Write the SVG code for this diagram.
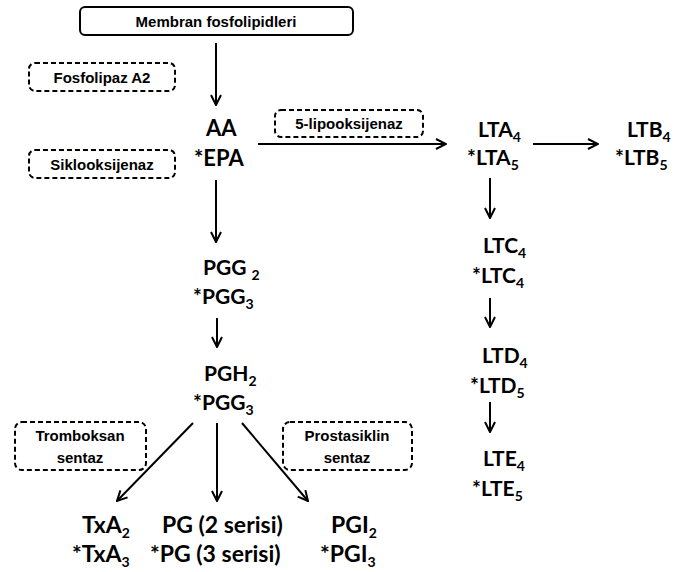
<svg xmlns="http://www.w3.org/2000/svg" width="684" height="572" viewBox="0 0 684 572">
  <style>
    .box { fill: #ffffff; stroke: #000000; stroke-width: 2; }
    .enz { fill: #ffffff; stroke: #000000; stroke-width: 2; stroke-dasharray: 5 3; }
    .lbl { font-family: "Liberation Sans", Arial, sans-serif; font-weight: bold; font-size: 15px; fill: #000; text-anchor: middle; }
    .met { font-family: Lato, "Open Sans", sans-serif; font-weight: bold; font-size: 21px; fill: #000; }
    .big { font-size: 23px; }
    .sub { font-size: 14px; }
    .edge { fill: none; stroke: #000000; stroke-width: 2; marker-end: url(#arrow); }
  </style>
  <defs>
    <marker id="arrow" viewBox="0 0 12 12" refX="11" refY="6" markerWidth="12" markerHeight="12" markerUnits="userSpaceOnUse" orient="auto">
      <polyline points="1,1 11,6 1,11" fill="none" stroke="#000" stroke-width="2"/>
    </marker>
  </defs>
  <rect width="684" height="572" fill="#ffffff"/>

  <!-- connectors -->
  <g id="connectors">
    <line class="edge" x1="216" y1="43" x2="216" y2="105"/>
    <line class="edge" x1="216" y1="180" x2="216" y2="242"/>
    <line class="edge" x1="217" y1="318" x2="217" y2="347"/>
    <line class="edge" x1="258" y1="144" x2="446" y2="144"/>
    <line class="edge" x1="533" y1="144" x2="598" y2="144"/>
    <line class="edge" x1="490" y1="178" x2="490" y2="218"/>
    <line class="edge" x1="490" y1="298" x2="490" y2="327"/>
    <line class="edge" x1="490" y1="402" x2="490" y2="432"/>
    <line class="edge" x1="193" y1="423" x2="117" y2="501"/>
    <line class="edge" x1="217" y1="423" x2="217" y2="501"/>
    <line class="edge" x1="242" y1="423" x2="308" y2="501"/>
  </g>

  <!-- source -->
  <g id="membran">
    <rect class="box" x="80" y="7" width="273" height="28" rx="5"/>
    <text class="lbl" x="216" y="27">Membran fosfolipidleri</text>
  </g>

  <!-- enzymes -->
  <g id="fosfolipaz">
    <rect class="enz" x="29" y="63" width="146" height="28" rx="6"/>
    <text class="lbl" x="102" y="83">Fosfolipaz A2</text>
  </g>
  <g id="siklooksijenaz">
    <rect class="enz" x="29" y="150" width="146" height="28" rx="6"/>
    <text class="lbl" x="102" y="170">Siklooksijenaz</text>
  </g>
  <g id="lipooksijenaz">
    <rect class="enz" x="275" y="110" width="148" height="27" rx="6"/>
    <text class="lbl" x="349" y="129">5-lipooksijenaz</text>
  </g>
  <g id="tromboksan-sentaz">
    <rect class="enz" x="15" y="422" width="131" height="48" rx="7"/>
    <text class="lbl" x="80" y="441">Tromboksan</text>
    <text class="lbl" x="80" y="463">sentaz</text>
  </g>
  <g id="prostasiklin-sentaz">
    <rect class="enz" x="283" y="422" width="129" height="48" rx="7"/>
    <text class="lbl" x="347" y="441">Prostasiklin</text>
    <text class="lbl" x="347" y="463">sentaz</text>
  </g>

  <!-- metabolites -->
  <g id="aa">
    <text class="met" x="206" y="136" style="font-size:22px">AA</text>
    <text class="met" x="194" y="166" style="font-size:22px">*EPA</text>
  </g>
  <g id="pgg">
    <text class="met" x="203" y="275">PGG <tspan class="sub" dy="5">2</tspan></text>
    <text class="met" x="193" y="304">*PGG<tspan class="sub" dy="5">3</tspan></text>
  </g>
  <g id="pgh">
    <text class="met" x="204" y="381">PGH<tspan class="sub" dy="5">2</tspan></text>
    <text class="met" x="193" y="410">*PGG<tspan class="sub" dy="5">3</tspan></text>
  </g>
  <g id="txa">
    <text class="met big" x="82" y="533">TxA<tspan class="sub" dy="5">2</tspan></text>
    <text class="met big" x="72" y="562">*TxA<tspan class="sub" dy="5">3</tspan></text>
  </g>
  <g id="pg">
    <text class="met big" x="162" y="533">PG (2 serisi)</text>
    <text class="met big" x="150" y="562">*PG (3 serisi)</text>
  </g>
  <g id="pgi">
    <text class="met big" x="331" y="533">PGI<tspan class="sub" dy="5">2</tspan></text>
    <text class="met big" x="320" y="562">*PGI<tspan class="sub" dy="5">3</tspan></text>
  </g>
  <g id="lta">
    <text class="met" x="478" y="137">LTA<tspan class="sub" dy="5">4</tspan></text>
    <text class="met" x="467" y="165">*LTA<tspan class="sub" dy="5">5</tspan></text>
  </g>
  <g id="ltb">
    <text class="met" x="627" y="137">LTB<tspan class="sub" dy="5">4</tspan></text>
    <text class="met" x="615" y="165">*LTB<tspan class="sub" dy="5">5</tspan></text>
  </g>
  <g id="ltc">
    <text class="met" x="483" y="253">LTC<tspan class="sub" dy="5">4</tspan></text>
    <text class="met" x="472" y="283">*LTC<tspan class="sub" dy="5">4</tspan></text>
  </g>
  <g id="ltd">
    <text class="met" x="482" y="363">LTD<tspan class="sub" dy="5">4</tspan></text>
    <text class="met" x="470" y="393">*LTD<tspan class="sub" dy="5">5</tspan></text>
  </g>
  <g id="lte">
    <text class="met" x="483" y="466">LTE<tspan class="sub" dy="5">4</tspan></text>
    <text class="met" x="472" y="496">*LTE<tspan class="sub" dy="5">5</tspan></text>
  </g>
</svg>
